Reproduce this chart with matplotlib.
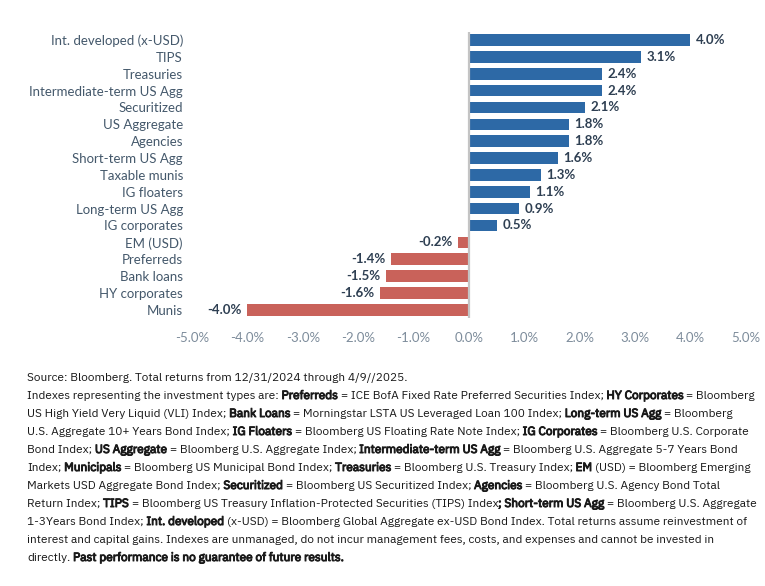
import matplotlib.pyplot as plt
import matplotlib.patheffects as pe
import numpy as np
from matplotlib import font_manager
from matplotlib.font_manager import FontProperties

# Chart data (total returns, %)
categories = ["Int. developed (x-USD)", "TIPS", "Treasuries", "Intermediate-term US Agg",
              "Securitized", "US Aggregate", "Agencies", "Short-term US Agg", "Taxable munis",
              "IG floaters", "Long-term US Agg", "IG corporates", "EM (USD)", "Preferreds",
              "Bank loans", "HY corporates", "Munis"]
returns = [4.0, 3.1, 2.4, 2.4, 2.1, 1.8, 1.8, 1.6, 1.3, 1.1, 0.9, 0.5, -0.2, -1.4, -1.5, -1.6, -4.0]
x_ticks = [-5, -4, -3, -2, -1, 0, 1, 2, 3, 4, 5]

# Footnote lines: (text, bold) pieces
footnote = [
    [("Source: Bloomberg. Total returns from 12/31/2024 through 4/9//2025.", False)],
    [("Indexes representing the investment types are: ", False), ("Preferreds", True),
     (" = ICE BofA Fixed Rate Preferred Securities Index; ", False), ("HY Corporates", True),
     (" = Bloomberg", False)],
    [("US High Yield Very Liquid (VLI) Index; ", False), ("Bank Loans", True),
     (" = Morningstar LSTA US Leveraged Loan 100 Index; ", False), ("Long-term US Agg", True),
     (" = Bloomberg", False)],
    [("U.S. Aggregate 10+ Years Bond Index; ", False), ("IG Floaters", True),
     (" = Bloomberg US Floating Rate Note Index; ", False), ("IG Corporates", True),
     (" = Bloomberg U.S. Corporate", False)],
    [("Bond Index; ", False), ("US Aggregate", True),
     (" = Bloomberg U.S. Aggregate Index; ", False), ("Intermediate-term US Agg", True),
     (" = Bloomberg U.S. Aggregate 5-7 Years Bond", False)],
    [("Index; ", False), ("Municipals", True), (" = Bloomberg US Municipal Bond Index; ", False),
     ("Treasuries", True), (" = Bloomberg U.S. Treasury Index; ", False), ("EM", True),
     (" (USD) = Bloomberg Emerging", False)],
    [("Markets USD Aggregate Bond Index; ", False), ("Securitized", True),
     (" = Bloomberg US Securitized Index; ", False), ("Agencies", True),
     (" = Bloomberg U.S. Agency Bond Total", False)],
    [("Return Index; ", False), ("TIPS", True),
     (" = Bloomberg US Treasury Inflation-Protected Securities (TIPS) Index", False),
     ("; Short-term US Agg", True), (" = Bloomberg U.S. Aggregate", False)],
    [("1-3Years Bond Index; ", False), ("Int. developed", True),
     (" (x-USD) = Bloomberg Global Aggregate ex-USD Bond Index. Total returns assume reinvestment of", False)],
    [("interest and capital gains. Indexes are unmanaged, do not incur management fees, costs, and expenses and cannot be invested in", False)],
    [("directly. ", False), ("Past performance is no guarantee of future results.", True)],
]

W, H = 765, 586
fig = plt.figure(figsize=(W / 100, H / 100), dpi=100)
fig.patch.set_facecolor("white")

ax = fig.add_axes([0.251, 0.457, 0.724, 0.489])
y = np.arange(len(categories))
colors = ["#2d69a6" if v >= 0 else "#c9625a" for v in returns]
ax.barh(y, returns, height=0.68, color=colors, zorder=2)
ax.axvline(0, color="#c4c4c4", lw=1.6, zorder=3)

label_font = ["Lato", "DejaVu Sans"]
for yi, v in zip(y, returns):
    ax.annotate(f"{v:.1f}%", (v, yi), xytext=(4 if v >= 0 else -4, 0), textcoords="offset points",
                ha="left" if v >= 0 else "right", va="center", fontsize=9.5,
                fontweight="bold", color="#2e3f52", family=label_font)

ax.set_xlim(-5, 5)
ax.set_ylim(len(categories) - 0.5, -0.5)
ax.set_xticks(x_ticks)
ax.set_xticklabels([f"{v:.1f}%" for v in x_ticks], family=label_font, fontsize=9.5, color="#7d8c9b")
ax.set_yticks(y)
ax.set_yticklabels(categories, family=label_font, fontsize=9.5, color="#44586b")
ax.tick_params(length=0)
ax.tick_params(axis="x", pad=10)
ax.tick_params(axis="y", pad=6.5)
for s in ax.spines.values():
    s.set_visible(False)

# footnote font: IBM Plex Sans if it is there
fonts = font_manager.fontManager.ttflist
have = {f.name for f in fonts}
wanted = ["IBM Plex Sans", "Source Sans 3", "Roboto"]
note_font = [f for f in wanted if f in have][:1] + ["DejaVu Sans"]
heavy = [f for f in fonts if f.name.startswith(note_font[0]) and f.style == "normal"
         and f.weight >= 600
         and not any(k in f.name for k in ("Condensed", "Arabic", "Hebrew", "Thai", "Devanagari",
                                            "KR", "JP", "Mono", "Serif"))]
heavy.sort(key=lambda f: abs(f.weight - 650))
bold_file = heavy[0].fname if heavy else None
# no static bold cut -> thicken the regular glyphs with a thin outline
fake_bold = [pe.withStroke(linewidth=0.7, foreground="#1a1a1a")]


def props(bold, size):
    if bold and bold_file:
        return {"fontproperties": FontProperties(fname=bold_file, size=size)}
    return {"fontsize": size, "family": note_font}


# Footnote with bold pieces, laid out piece by piece
fig.canvas.draw()
renderer = fig.canvas.get_renderer()


def ink_width(s, bold, size):
    t = fig.text(0, 0, s, **props(bold, size))
    w = t.get_window_extent(renderer).width
    t.remove()
    return w


def space_width(bold, size):
    return ink_width("x x", bold, size) - ink_width("xx", bold, size)


def line_width(line, size):
    w = 0
    for s, bold in line:
        sp = space_width(bold, size)
        w += ink_width(s.strip(), bold, size)
        w += sp * ((len(s) - len(s.lstrip())) + (len(s) - len(s.rstrip())))
    return w


# fit the widest line to the width of the reference text block
widest = max(line_width(line, 10) for line in footnote)
note_size = min(10 * 730 / widest, 10)

y0 = 378
for i, line in enumerate(footnote):
    x = 27
    ypix = y0 + i * 18
    for s, bold in line:
        sp = space_width(bold, note_size)
        x += sp * (len(s) - len(s.lstrip()))
        core = s.strip()
        t = fig.text(x / W, 1 - ypix / H, core, color="#1a1a1a", va="center", ha="left",
                     **props(bold, note_size))
        if bold and not bold_file:
            t.set_path_effects(fake_bold)
        x += ink_width(core, bold, note_size)
        x += sp * (len(s) - len(s.rstrip()))

fig.savefig("out.png", dpi=100)
